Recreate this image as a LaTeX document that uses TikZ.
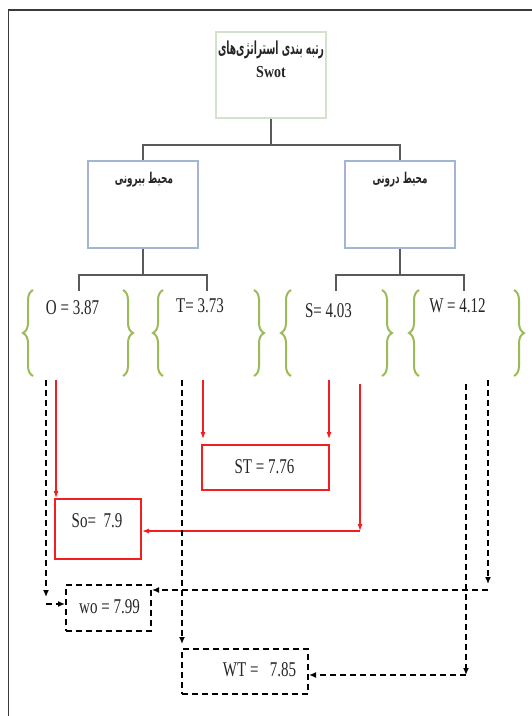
\documentclass[tikz,border=0pt]{standalone}
\usepackage{fontspec}
\setmainfont{Liberation Serif}
\newfontfamily\arabicfont[Script=Arabic]{DejaVu Sans}
\TeXXeTstate=1
\usetikzlibrary{arrows.meta,decorations.pathreplacing}

\definecolor{framegray}{HTML}{3A3A3A}
\definecolor{boxgreen}{HTML}{D3E2CC}
\definecolor{boxblue}{HTML}{A2B6D4}
\definecolor{bracegreen}{HTML}{9BBB59}
\definecolor{conngray}{HTML}{5A5A5A}
\definecolor{redline}{HTML}{F41E1E}
\definecolor{inkgray}{HTML}{262626}

% tall, narrow Latin labels
\newcommand{\lat}[1]{\scalebox{1}[1.4]{\fontsize{15}{18}\selectfont #1}}
% bold Persian text fitted to a given width and total height
\newcommand{\fa}[3]{\resizebox*{#1}{#2}{\arabicfont\bfseries #3}}

\begin{document}
\begin{tikzpicture}[x=1pt,y=-1pt,
  topbox/.style={draw=boxgreen, line width=1.6pt, minimum width=110pt, minimum height=86pt, inner sep=0pt},
  envbox/.style={draw=boxblue, line width=1.6pt, minimum width=110pt, minimum height=87pt, inner sep=0pt},
  redbox/.style={draw=redline, line width=2pt, inner sep=0pt},
  dashbox/.style={draw=black, line width=2pt, dash pattern=on 6pt off 4pt, inner sep=0pt},
  conn/.style={draw=conngray, line width=1.4pt},
  brc/.style={draw=bracegreen, line width=2pt, decorate, decoration={brace, amplitude=10pt}},
  redarrow/.style={draw=redline, line width=1.1pt, -{Latex[length=7pt,width=5pt]}},
  blkarrow/.style={draw=black, line width=2pt, dash pattern=on 6pt off 4pt, -{Latex[length=7pt,width=6pt]}},
  lbl/.style={inner sep=0pt, text=inkgray}
]
\useasboundingbox (0,0) rectangle (532,716);
\fill[white] (0,0) rectangle (532,716);

% outer frame (top and left edges)
\draw[framegray, line width=1.5pt] (532,10) -- (8.5,10) -- (8.5,716);

% hierarchy boxes
\node[topbox] (top) at (271,75) {};
\node[envbox] (ext) at (143,204.5) {};
\node[envbox] (int) at (400,204.5) {};

\node[lbl] (topT1) at (271,50) {\fa{106pt}{18pt}{\beginR رتبه بندی استراتژی‌های\endR}};
\node[lbl] (topT2) at (271,72) {\scalebox{1}[1.2]{\fontsize{14}{16}\selectfont\bfseries Swot}};
\node[lbl] (extT) at (144,180) {\fa{58pt}{15pt}{\beginR محیط بیرونی\endR}};
\node[lbl] (intT) at (400,180) {\fa{55pt}{15pt}{\beginR محیط درونی\endR}};

% tree connectors
\coordinate (busTop) at (271,145);
\draw[conn] (top.south) -- (busTop);
\draw[conn] (ext.north) |- (busTop) -| (int.north);

\coordinate (extBus) at (143,275);
\coordinate (oTop) at (79,291);
\coordinate (tTop) at (207,291);
\draw[conn] (ext.south) -- (extBus);
\draw[conn] (oTop) |- (extBus) -| (tTop);

\coordinate (intBus) at (400,275);
\coordinate (sTop) at (336,291);
\coordinate (wTop) at (464,291);
\draw[conn] (int.south) -- (intBus);
\draw[conn] (sTop) |- (intBus) -| (wTop);

% factor braces
\draw[brc] (33,376) -- (33,290);
\draw[brc] (123,290) -- (123,376);
\draw[brc] (163,376) -- (163,290);
\draw[brc] (254,290) -- (254,376);
\draw[brc] (291,376) -- (291,290);
\draw[brc] (382,290) -- (382,376);
\draw[brc] (419,376) -- (419,290);
\draw[brc] (514,290) -- (514,376);

% factor scores
\node[lbl] (oVal) at (72.5,308) {\lat{O = 3.87}};
\node[lbl] (tVal) at (200,306) {\lat{T= 3.73}};
\node[lbl] (sVal) at (328.5,311) {\lat{S= 4.03}};
\node[lbl] (wVal) at (457.5,306) {\lat{W = 4.12}};

% strategy boxes
\node[redbox, minimum width=127pt, minimum height=45pt] (st) at (265.5,467.5) {};
\node[redbox, minimum width=86pt, minimum height=60pt] (so) at (98,529) {};
\node[dashbox, minimum width=85pt, minimum height=46pt] (wo) at (108.5,608) {};
\node[dashbox, minimum width=126pt, minimum height=45pt] (wt) at (245,671.5) {};

\node[lbl] (stVal) at (264.5,467) {\lat{ST = 7.76}};
\node[lbl] (soVal) at (97,521) {\lat{So=\ \ 7.9}};
\node[lbl] (woVal) at (109.5,607) {\lat{wo = 7.99}};
\node[lbl] (wtVal) at (259.5,670) {\lat{WT =\ \ \ 7.85}};

% red links (SO, ST)
\coordinate (oRed) at (56,380);
\coordinate (tRed) at (203,380);
\coordinate (sRedA) at (329,380);
\coordinate (sRedB) at (360,384);
\coordinate (sRedCorner) at (360,531);
\draw[redarrow] (oRed) -- (oRed |- so.north);
\draw[redarrow, shorten >=5pt] (tRed) -- (tRed |- st.north);
\draw[redarrow, shorten >=5pt] (sRedA) -- (sRedA |- st.north);
\draw[redarrow] (sRedB) -- (sRedCorner);
\draw[redarrow] (sRedCorner) -- (sRedCorner -| so.east);

% dashed links (WO, WT)
\coordinate (oBlk) at (46,380);
\coordinate (oBlkEnd) at (46,597);
\coordinate (woIn) at (46,604);
\draw[blkarrow] (oBlk) -- (oBlkEnd);
\draw[blkarrow] (woIn) -- (woIn -| wo.west);

\coordinate (tBlk) at (182,380);
\draw[blkarrow, shorten >=4pt] (tBlk) -- (tBlk |- wt.north);

\coordinate (wBlkA) at (466,384);
\coordinate (wBlkCorner) at (466,675);
\draw[blkarrow] (wBlkA) -- (wBlkCorner);
\draw[blkarrow] (wBlkCorner) -- (wBlkCorner -| wt.east);

\coordinate (wBlkB) at (488,380);
\coordinate (wBlkEnd) at (488,584);
\coordinate (woRight) at (488,590);
\draw[blkarrow] (wBlkB) -- (wBlkEnd);
\draw[blkarrow] (woRight) -- (woRight -| wo.east);
\end{tikzpicture}
\end{document}
